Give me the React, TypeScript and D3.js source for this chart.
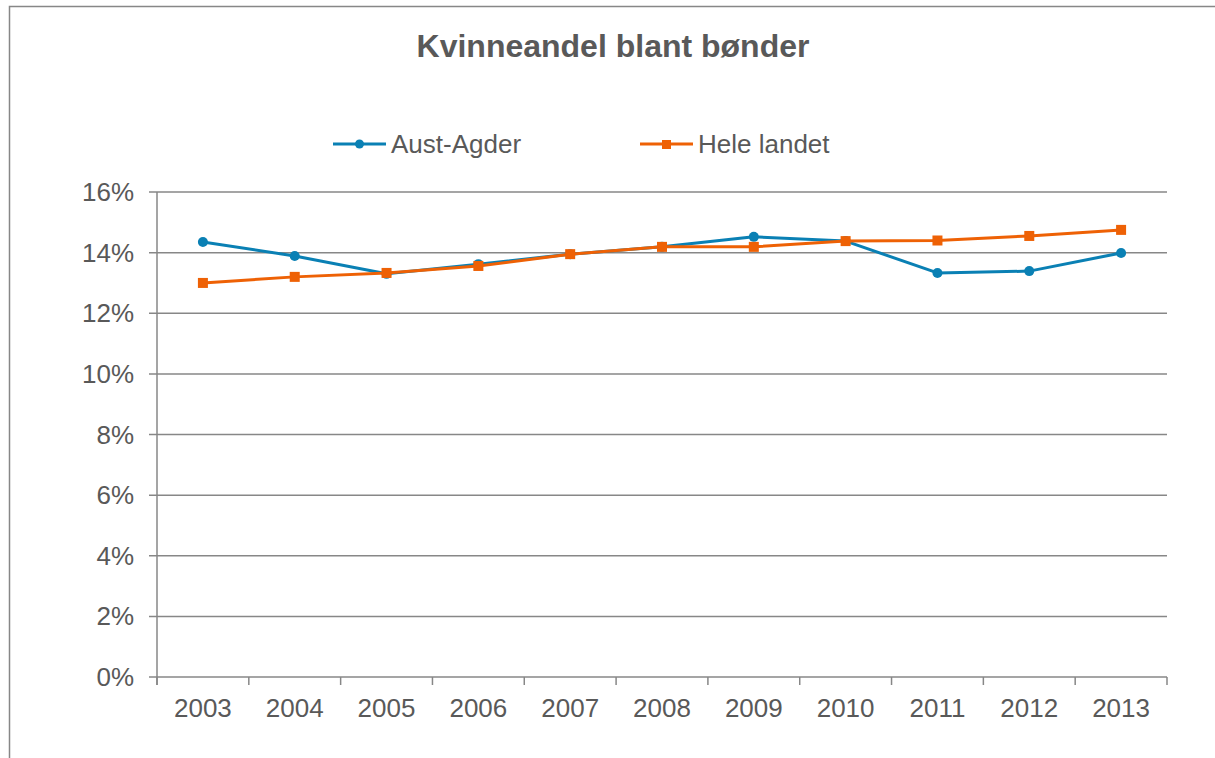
import React from "react";
import * as d3 from "d3";

const years = ["2003", "2004", "2005", "2006", "2007", "2008", "2009", "2010", "2011", "2012", "2013"];
const austAgder = [14.35, 13.89, 13.3, 13.62, 13.95, 14.19, 14.52, 14.38, 13.33, 13.39, 13.99];
const heleLandet = [13.0, 13.2, 13.33, 13.56, 13.95, 14.19, 14.19, 14.38, 14.4, 14.55, 14.75];
const yTicks = [0, 2, 4, 6, 8, 10, 12, 14, 16];
const title = "Kvinneandel blant bønder";
const seriesNames = ["Aust-Agder", "Hele landet"];

const W = 1215, H = 758;
const left = 157, right = 1167, top = 192, bottom = 677;
const BLUE = "#0a80b4";
const ORANGE = "#ee6105";
const GRID = "#878787";
const TXT = "#595959";
const FONT = "'Liberation Sans', Arial, sans-serif";
const FS = 26;

export default function App() {
  const x = d3.scaleBand<string>().domain(years).range([left, right]);
  const y = d3.scaleLinear().domain([0, 16]).range([bottom, top]);
  const cx = (d: string) => (x(d) as number) + x.bandwidth() / 2;
  const line = d3.line<number>().x((_, i) => cx(years[i])).y((v) => y(v));

  return (
    <svg width={W} height={H} style={{ position: "fixed", left: 0, top: 0, background: "#fff" }}>
      <rect x={9.5} y={6.5} width={1300} height={900} fill="#fff" stroke={GRID} strokeWidth={1.5} />
      <text x={613} y={57} textAnchor="middle" fontFamily={FONT} fontWeight="bold" fontSize={32} fill={TXT}>{title}</text>

      {/* legend */}
      <g>
        <line x1={333} x2={386} y1={144} y2={144} stroke={BLUE} strokeWidth={3} />
        <circle cx={359.5} cy={144} r={4.5} fill={BLUE} />
        <text x={391} y={153} fontFamily={FONT} fontSize={FS} fill={TXT}>{seriesNames[0]}</text>
        <line x1={640} x2={693} y1={144} y2={144} stroke={ORANGE} strokeWidth={3} />
        <rect x={662} y={140} width={9} height={9} fill={ORANGE} />
        <text x={698} y={153} fontFamily={FONT} fontSize={FS} fill={TXT}>{seriesNames[1]}</text>
      </g>

      {/* grid + y axis */}
      {yTicks.map((t) => (
        <g key={t}>
          <line x1={149} x2={right} y1={y(t)} y2={y(t)} stroke={GRID} strokeWidth={1.5} />
          <text x={134} y={y(t) + 9} textAnchor="end" fontFamily={FONT} fontSize={FS} fill={TXT}>{t}%</text>
        </g>
      ))}
      <line x1={left} x2={left} y1={top} y2={bottom + 8} stroke={GRID} strokeWidth={1.5} />
      {/* x ticks */}
      {years.map((yr) => (
        <line key={"t" + yr} x1={x(yr)} x2={x(yr)} y1={bottom} y2={bottom + 8} stroke={GRID} strokeWidth={1.5} />
      ))}
      <line x1={right} x2={right} y1={bottom} y2={bottom + 8} stroke={GRID} strokeWidth={1.5} />
      {years.map((yr) => (
        <text key={"l" + yr} x={cx(yr)} y={717} textAnchor="middle" fontFamily={FONT} fontSize={FS} fill={TXT}>{yr}</text>
      ))}

      {/* series */}
      <path d={line(austAgder) as string} fill="none" stroke={BLUE} strokeWidth={3} strokeLinejoin="round" />
      {austAgder.map((v, i) => (
        <circle key={"a" + i} cx={cx(years[i])} cy={y(v)} r={5} fill={BLUE} />
      ))}
      <path d={line(heleLandet) as string} fill="none" stroke={ORANGE} strokeWidth={3} strokeLinejoin="round" />
      {heleLandet.map((v, i) => (
        <rect key={"h" + i} x={cx(years[i]) - 5} y={y(v) - 5} width={10} height={10} fill={ORANGE} />
      ))}
    </svg>
  );
}
